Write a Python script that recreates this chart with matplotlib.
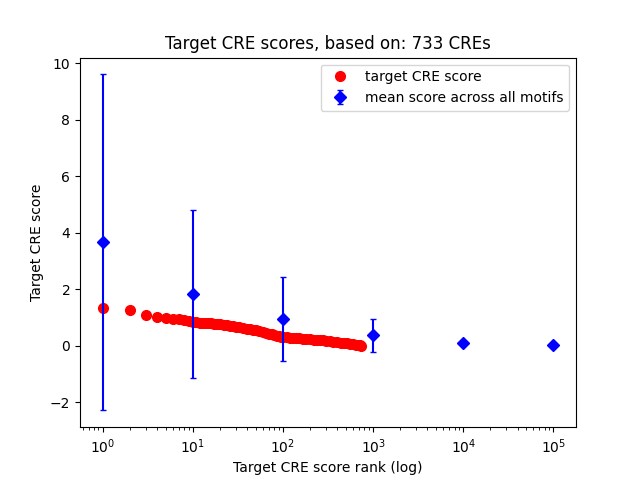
import numpy as np
import matplotlib
matplotlib.use("Agg")
from matplotlib import pyplot as plt

# Target CRE scores (rank, score)
ranks = [1, 2, 3, 4, 5, 6, 7, 8, 9, 10, 11, 12, 13, 14, 15, 16, 17, 18, 19, 20,
         22, 24, 26, 28, 30, 33, 36, 40, 43, 47, 50, 55, 60, 65, 70, 75, 80, 85,
         90, 95, 100, 110, 120, 130, 140, 150, 165, 180, 200, 220, 240, 260, 280,
         300, 330, 360, 400, 440, 480, 520, 560, 600, 640, 680, 710, 733]
scores = [1.32, 1.25, 1.08, 1.03, 0.97, 0.95, 0.93, 0.91, 0.88, 0.85, 0.84, 0.82,
          0.81, 0.81, 0.80, 0.79, 0.78, 0.77, 0.76, 0.76, 0.74, 0.72, 0.71, 0.69,
          0.68, 0.66, 0.64, 0.61, 0.59, 0.56, 0.54, 0.51, 0.48, 0.45, 0.43, 0.40,
          0.38, 0.36, 0.34, 0.32, 0.31, 0.30, 0.29, 0.28, 0.27, 0.26, 0.25, 0.24,
          0.23, 0.22, 0.21, 0.20, 0.19, 0.18, 0.17, 0.15, 0.13, 0.11, 0.10, 0.08,
          0.07, 0.06, 0.04, 0.03, 0.02, 0.00]

# Mean score across all motifs at log-spaced ranks
motif_ranks = [1, 10, 100, 1000, 10000, 100000]
motif_mean = [3.66, 1.82, 0.96, 0.37, 0.11, 0.01]
motif_err = [5.95, 2.97, 1.49, 0.58, 0.07, 0.02]

fig, ax = plt.subplots(figsize=(6.4, 4.8), dpi=100)
ax.plot(ranks, scores, 'o', color='red', markersize=7, label='target CRE score')
ax.errorbar(motif_ranks, motif_mean, yerr=motif_err, fmt='D', color='blue',
            capsize=2, label='mean score across all motifs')
ax.set_xscale('log')
ax.set_title('Target CRE scores, based on: 733 CREs')
ax.set_xlabel('Target CRE score rank (log)')
ax.set_ylabel('Target CRE score')
ax.legend(loc='upper right')
fig.savefig('out.png')
